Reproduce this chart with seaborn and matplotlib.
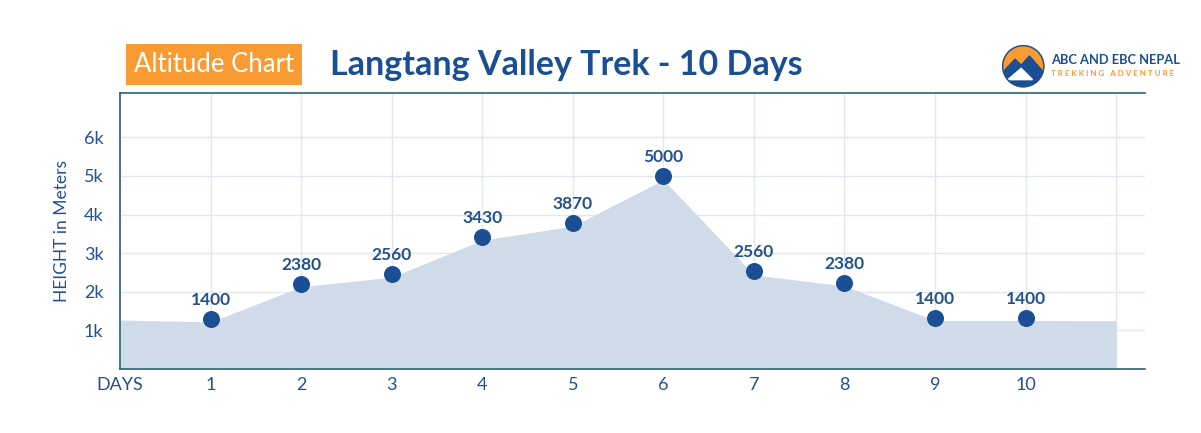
import numpy as np
import pandas as pd
import matplotlib.pyplot as plt
import matplotlib.patches as mpatches
import seaborn as sns

# chart data
days = [1, 2, 3, 4, 5, 6, 7, 8, 9, 10]
altitude_labels = [1400, 2380, 2560, 3430, 3870, 5000, 2560, 2380, 1400, 1400]
dot_heights = [1300, 2200, 2460, 3420, 3780, 5000, 2540, 2230, 1320, 1320]
area_x = [0, 1, 2, 3, 4, 5, 6, 7, 8, 9, 10, 11]
area_heights = [1270, 1220, 2130, 2380, 3340, 3700, 4900, 2440, 2150, 1260, 1260, 1250]
y_ticks = [1000, 2000, 3000, 4000, 5000, 6000]
y_tick_labels = ['1k', '2k', '3k', '4k', '5k', '6k']
x_ticks = [0, 1, 2, 3, 4, 5, 6, 7, 8, 9, 10]
x_tick_labels = ['DAYS', '1', '2', '3', '4', '5', '6', '7', '8', '9', '10']

blue = '#1b4f93'
text_blue = '#24518f'
fill_col = '#cfdbe8'
grid_col = '#e2e7ef'
spine_col = '#2b6470'
orange = '#f99b33'

sns.set_theme(style='whitegrid')
plt.rcParams['font.family'] = ['Lato', 'DejaVu Sans']

fig = plt.figure(figsize=(12.01, 4.33), dpi=100)
ax = fig.add_axes([0.1, 0.1478, 0.8534, 0.6374])

df = pd.DataFrame({'day': days, 'height': dot_heights, 'label': altitude_labels})

ax.fill_between(area_x, area_heights, 0, color=fill_col, lw=0, zorder=1)
sns.scatterplot(data=df, x='day', y='height', s=150, color=blue, edgecolor=blue,
                linewidth=0, ax=ax, zorder=3)
for _, r in df.iterrows():
    ax.annotate(str(r['label']), (r['day'], r['height']), xytext=(0, 8),
                textcoords='offset points', ha='center', va='bottom',
                fontsize=12.5, fontweight='bold', color=text_blue, zorder=4)

ax.set_xlim(0, 11.32)
ax.set_ylim(0, 7150)
ax.set_xticks(x_ticks)
ax.set_xticklabels(x_tick_labels)
ax.set_yticks(y_ticks)
ax.set_yticklabels(y_tick_labels)
ax.xaxis.set_minor_locator(plt.FixedLocator([11]))
ax.grid(True, which='both', color=grid_col, lw=1, zorder=0)
ax.tick_params(axis='both', length=0, labelsize=13, colors=text_blue)
ax.tick_params(axis='x', pad=6)
ax.tick_params(axis='y', pad=12)
ax.set_xlabel('')
ax.set_ylabel('HEIGHT in Meters', fontsize=12.5, color=text_blue, labelpad=10)
ax.set_facecolor('white')
for side in ['left', 'top', 'bottom']:
    ax.spines[side].set_color(spine_col)
    ax.spines[side].set_linewidth(1.2)
ax.spines['right'].set_visible(False)

# header
fig.text(0.1115, 0.851, 'Altitude Chart', fontsize=18.5, color='white',
         ha='left', va='center',
         bbox=dict(boxstyle='square,pad=0.3', fc=orange, ec='none'))
fig.text(0.2747, 0.851, 'Langtang Valley Trek - 10 Days', fontsize=24.5,
         fontweight='bold', color=blue, ha='left', va='center')

# logo
lax = fig.add_axes([0.834, 0.797, 0.036, 0.1])
lax.set_xlim(-1.05, 1.05)
lax.set_ylim(-1.05, 1.05)
lax.set_aspect('equal')
lax.axis('off')
circ = mpatches.Circle((0, 0), 1, color=orange)
lax.add_patch(circ)
mtn = mpatches.Polygon([[-1, -0.3], [-0.4, 0.35], [-0.1, 0.05], [0.3, 0.5],
                        [1, -0.3], [1, -1], [-1, -1]], color=blue)
lax.add_patch(mtn)
mtn.set_clip_path(circ)
snow = mpatches.Polygon([[-0.75, -0.65], [-0.1, -0.1], [0.45, -0.65]], color='white')
lax.add_patch(snow)
lax.add_patch(mpatches.Circle((0, 0), 1, fill=False, ec=blue, lw=1))
fig.text(0.875, 0.862, 'ABC AND EBC NEPAL', fontsize=9.3, fontweight='bold',
         color=blue, ha='left', va='center')
fig.text(0.875, 0.830, 'T R E K K I N G   A D V E N T U R E', fontsize=5.8,
         fontweight='bold', color=orange, ha='left', va='center')

fig.savefig('out.png', dpi=100)
